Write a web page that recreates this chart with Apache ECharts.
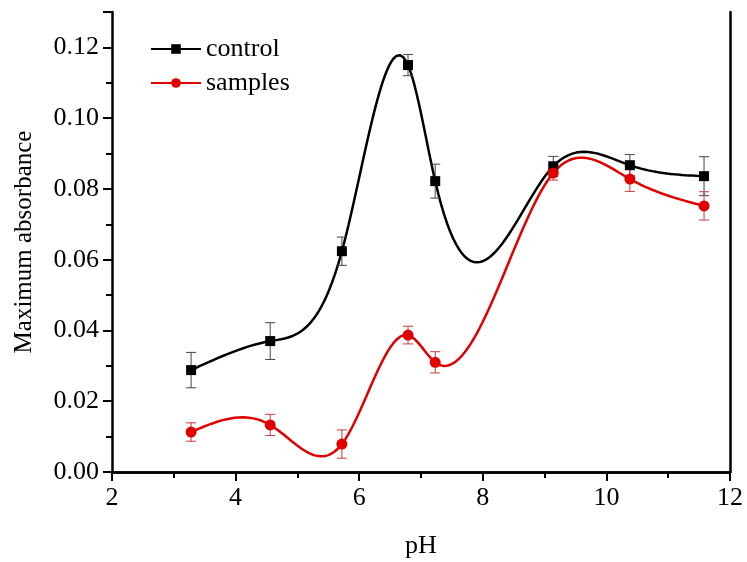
<!DOCTYPE html>
<html>
<head>
<meta charset="utf-8">
<script src="https://cdn.jsdelivr.net/npm/echarts@6/dist/echarts.min.js"></script>
<style>html,body{margin:0;padding:0;background:#fff}#c{width:747px;height:562px}</style>
</head>
<body>
<div id="c"></div>
<script>
// ---- data ----
const pH = [3.28, 4.56, 5.72, 6.79, 7.23, 9.14, 10.38, 11.58];
const control = [0.0288, 0.0370, 0.0624, 0.1150, 0.0822, 0.0864, 0.0867, 0.0836];
const controlErr = [0.0050, 0.0052, 0.0040, 0.0030, 0.0048, 0.0028, 0.0030, 0.0055];
const samples = [0.0113, 0.0133, 0.0079, 0.0387, 0.0310, 0.0845, 0.0828, 0.0752];
const samplesErr = [0.0026, 0.0030, 0.0040, 0.0025, 0.0030, 0.0020, 0.0035, 0.0040];
const xTicks = [2, 4, 6, 8, 10, 12];
const yTicks = [0.00, 0.02, 0.04, 0.06, 0.08, 0.10, 0.12];

// natural cubic spline used only to draw the connecting curve through the points
function splineCurve(xs, ys, steps) {
  const n = xs.length, h = [], al = [], l = [1], mu = [0], z = [0], c = new Array(n).fill(0), b = [], d = [];
  for (let i = 0; i < n - 1; i++) h.push(xs[i + 1] - xs[i]);
  for (let i = 1; i < n - 1; i++) al[i] = 3 / h[i] * (ys[i + 1] - ys[i]) - 3 / h[i - 1] * (ys[i] - ys[i - 1]);
  for (let i = 1; i < n - 1; i++) {
    l[i] = 2 * (xs[i + 1] - xs[i - 1]) - h[i - 1] * mu[i - 1];
    mu[i] = h[i] / l[i];
    z[i] = (al[i] - h[i - 1] * z[i - 1]) / l[i];
  }
  for (let j = n - 2; j >= 0; j--) {
    c[j] = z[j] - mu[j] * c[j + 1];
    b[j] = (ys[j + 1] - ys[j]) / h[j] - h[j] * (c[j + 1] + 2 * c[j]) / 3;
    d[j] = (c[j + 1] - c[j]) / (3 * h[j]);
  }
  const out = [];
  for (let j = 0; j < n - 1; j++) {
    for (let s = 0; s < steps; s++) {
      const t = h[j] * s / steps;
      out.push([xs[j] + t, ys[j] + b[j] * t + c[j] * t * t + d[j] * t * t * t]);
    }
  }
  out.push([xs[n - 1], ys[n - 1]]);
  return out;
}

const font = "'Liberation Serif','Times New Roman',serif";
const pts = (ys) => pH.map((x, i) => [x, ys[i]]);
const errPts = (ys, es) => pH.map((x, i) => [x, ys[i], es[i]]);

function errRender(color) {
  return function (params, api) {
    const x = api.value(0), y = api.value(1), e = api.value(2);
    const top = api.coord([x, y + e]), bot = api.coord([x, y - e]);
    const w = 5;
    const st = { stroke: color, lineWidth: 1 };
    return {
      type: 'group',
      children: [
        { type: 'line', shape: { x1: top[0], y1: top[1], x2: bot[0], y2: bot[1] }, style: st },
        { type: 'line', shape: { x1: top[0] - w, y1: top[1], x2: top[0] + w, y2: top[1] }, style: st },
        { type: 'line', shape: { x1: bot[0] - w, y1: bot[1], x2: bot[0] + w, y2: bot[1] }, style: st }
      ]
    };
  };
}

const chart = echarts.init(document.getElementById('c'));
const axisLine = { show: true, lineStyle: { color: '#000', width: 2.5 } };
chart.setOption({
  animation: false,
  backgroundColor: '#fff',
  grid: { left: 112, right: 17, top: 12, bottom: 90, containLabel: false, outerBoundsMode: 'none' },
  legend: {
    orient: 'vertical', left: 145, top: 31,
    itemWidth: 50, itemHeight: 12, itemGap: 8,
    data: ['control', 'samples'],
    textStyle: { fontFamily: font, fontSize: 26, color: '#000' }
  },
  xAxis: [{
    type: 'value', min: 2, max: 12, interval: 2,
    name: 'pH', nameLocation: 'middle', nameGap: 61,
    nameTextStyle: { fontFamily: font, fontSize: 26, color: '#000' },
    axisLine: axisLine,
    axisTick: { show: true, inside: false, length: 9, lineStyle: { color: '#000', width: 2 } },
    minorTick: { show: true, splitNumber: 2, length: 6, lineStyle: { color: '#000', width: 2 } },
    axisLabel: { fontFamily: font, fontSize: 26, color: '#000', margin: 13,
      formatter: v => xTicks.includes(v) ? String(v) : '' },
    splitLine: { show: false }
  }, {
    type: 'value', min: 2, max: 12, position: 'top',
    axisLine: axisLine, axisTick: { show: false }, axisLabel: { show: false }, splitLine: { show: false }
  }],
  yAxis: [{
    type: 'value', min: 0, max: 0.13, interval: 0.02,
    name: 'Maximum absorbance', nameLocation: 'middle', nameGap: 75,
    nameTextStyle: { fontFamily: font, fontSize: 25, color: '#000' },
    axisLine: axisLine,
    axisTick: { show: true, length: 9, lineStyle: { color: '#000', width: 2 } },
    minorTick: { show: true, splitNumber: 2, length: 6, lineStyle: { color: '#000', width: 2 } },
    axisLabel: { fontFamily: font, fontSize: 26, color: '#000', margin: 13,
      formatter: v => { const t = yTicks.find(k => Math.abs(k - v) < 1e-9); return t === undefined ? '' : t.toFixed(2); } },
    splitLine: { show: false }
  }, {
    type: 'value', min: 0, max: 0.13, position: 'right',
    axisLine: axisLine, axisTick: { show: false }, axisLabel: { show: false }, splitLine: { show: false }
  }],
  series: [
    { name: 'control', type: 'line', data: splineCurve(pH, control, 40), showSymbol: false,
      symbol: 'rect', symbolSize: 10, color: '#000',
      lineStyle: { color: '#000', width: 2.5 }, itemStyle: { color: '#000' }, z: 2 },
    { name: 'samples', type: 'line', data: splineCurve(pH, samples, 40), showSymbol: false,
      symbol: 'circle', symbolSize: 11, color: '#e00000',
      lineStyle: { color: '#e00000', width: 2.5 }, itemStyle: { color: '#e00000' }, z: 2 },
    { type: 'custom', data: errPts(control, controlErr), renderItem: errRender('#444'), z: 3, silent: true },
    { type: 'custom', data: errPts(samples, samplesErr), renderItem: errRender('#c83a3a'), z: 3, silent: true },
    { type: 'scatter', data: pts(control), symbol: 'rect', symbolSize: 10, itemStyle: { color: '#000', opacity: 1 }, z: 4 },
    { type: 'scatter', data: pts(samples), symbol: 'circle', symbolSize: 11, itemStyle: { color: '#e00000', opacity: 1 }, z: 4 }
  ]
});
</script>
</body>
</html>
